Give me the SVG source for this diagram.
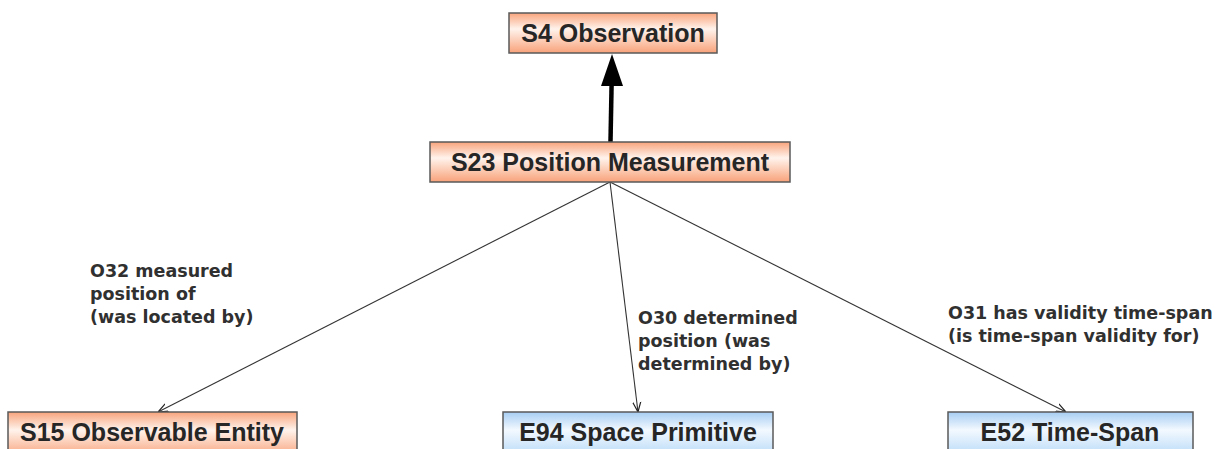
<svg xmlns="http://www.w3.org/2000/svg" width="1217" height="449" viewBox="0 0 1217 449">
<defs>
<linearGradient id="gO" x1="0" y1="0" x2="0" y2="1">
<stop offset="0" stop-color="#f8a47c"/>
<stop offset="0.4" stop-color="#fff3ec"/>
<stop offset="1" stop-color="#f8a27a"/>
</linearGradient>
<linearGradient id="gB" x1="0" y1="0" x2="0" y2="1">
<stop offset="0" stop-color="#a6cdf3"/>
<stop offset="0.4" stop-color="#f3f9ff"/>
<stop offset="1" stop-color="#b6d9f7"/>
</linearGradient>
<marker id="thin" viewBox="0 0 10 10" refX="10" refY="5" markerWidth="10" markerHeight="10" markerUnits="userSpaceOnUse" orient="auto">
<path d="M0,1 L10,5 L0,9" fill="none" stroke="#222" stroke-width="1.2"/>
</marker>
<style>
.box{stroke:#5a5a5a;stroke-width:1.5}
.nt{font-family:"Liberation Sans",Arial,sans-serif;font-weight:bold;font-size:25px;fill:#262626;text-anchor:middle}
.lt{font-family:"DejaVu Sans",Verdana,sans-serif;font-weight:bold;font-size:17.5px;fill:#303030}
.ln{stroke:#333;stroke-width:1.1;fill:none}
</style>
</defs>
<g id="connectors">
<line x1="610.5" y1="142" x2="611.6" y2="84" stroke="#000" stroke-width="4.5"/>
<path d="M612,54 L623,86 L601,86 Z" fill="#000"/>
<line class="ln" x1="610" y1="182" x2="158" y2="412" marker-end="url(#thin)"/>
<line class="ln" x1="610" y1="182" x2="638" y2="412" marker-end="url(#thin)"/>
<line class="ln" x1="610" y1="182" x2="1066" y2="412" marker-end="url(#thin)"/>
</g>
<g id="labels">
<text class="lt" x="90" y="277">O32 measured</text>
<text class="lt" x="90" y="300">position of</text>
<text class="lt" x="90" y="323">(was located by)</text>
<text class="lt" x="638" y="324">O30 determined</text>
<text class="lt" x="638" y="347">position (was</text>
<text class="lt" x="638" y="370">determined by)</text>
<text class="lt" x="948" y="319">O31 has validity time-span</text>
<text class="lt" x="948" y="342">(is time-span validity for)</text>
</g>
<g id="S4">
<rect class="box" x="509" y="13" width="208" height="40" fill="url(#gO)"/>
<text class="nt" x="613" y="42">S4 Observation</text>
</g>
<g id="S23">
<rect class="box" x="430" y="142" width="360" height="40" fill="url(#gO)"/>
<text class="nt" x="610" y="171">S23 Position Measurement</text>
</g>
<g id="S15">
<rect class="box" x="8" y="412" width="289" height="45" fill="url(#gO)"/>
<text class="nt" x="152" y="441">S15 Observable Entity</text>
</g>
<g id="E94">
<rect class="box" x="503" y="412" width="270" height="45" fill="url(#gB)"/>
<text class="nt" x="638" y="441">E94 Space Primitive</text>
</g>
<g id="E52">
<rect class="box" x="948" y="412" width="245" height="45" fill="url(#gB)"/>
<text class="nt" x="1070" y="441">E52 Time-Span</text>
</g>
</svg>
